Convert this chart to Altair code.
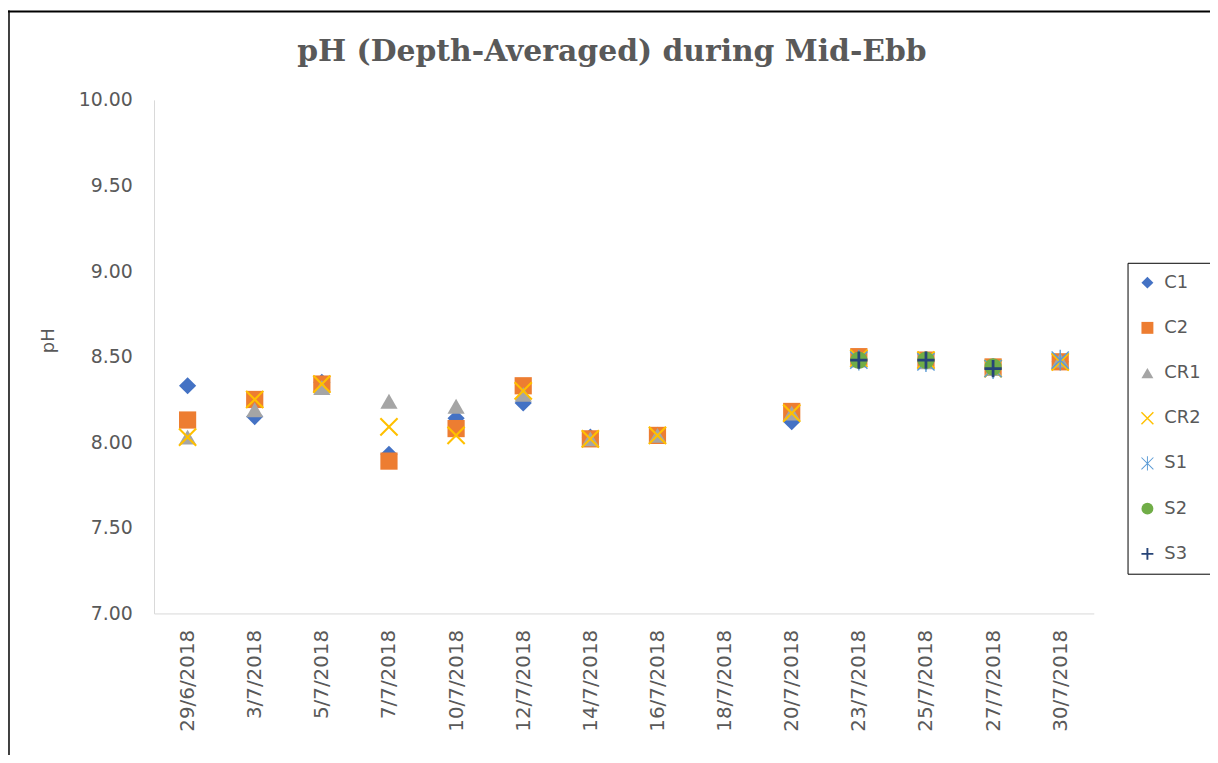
import altair as alt
import pandas as pd

dates = ["29/6/2018", "3/7/2018", "5/7/2018", "7/7/2018", "10/7/2018", "12/7/2018",
         "14/7/2018", "16/7/2018", "18/7/2018", "20/7/2018", "23/7/2018", "25/7/2018",
         "27/7/2018", "30/7/2018"]
series = ["C1", "C2", "CR1", "CR2", "S1", "S2", "S3"]

c1 = [8.33, 8.15, 8.35, 7.93, 8.14, 8.23, 8.03, 8.04, None, 8.12, 8.49, 8.47, 8.43, 8.47]
c2 = [8.13, 8.25, 8.34, 7.89, 8.08, 8.33, 8.02, 8.04, None, 8.18, 8.50, 8.48, 8.44, 8.47]
cr1 = [8.03, 8.19, 8.32, 8.24, 8.21, 8.28, 8.02, 8.04, None, 8.17, 8.48, 8.47, 8.43, 8.48]
cr2 = [8.03, 8.25, 8.34, 8.09, 8.04, 8.30, 8.02, 8.04, None, 8.17, 8.49, 8.48, 8.43, 8.47]
s1 = [None, None, None, None, None, None, None, None, None, None, 8.48, 8.47, 8.43, 8.48]
s2 = [None, None, None, None, None, None, None, None, None, None, 8.48, 8.48, 8.44, None]
s3 = [None, None, None, None, None, None, None, None, None, None, 8.48, 8.48, 8.43, None]

colors = ["#4472C4", "#ED7D31", "#A5A5A5", "#FFC000", "#5B9BD5", "#70AD47", "#264478"]

d = 0.085
x_path = (f"M{-1+d},{-1-d}L{1+d},{1-d}L{1-d},{1+d}L{-1-d},{-1+d}Z"
          f"M{-1-d},{1-d}L{1-d},{-1-d}L{1+d},{-1+d}L{-1+d},{1+d}Z")
e = 0.06
ast_path = (f"M{-1+e},{-1-e}L{1+e},{1-e}L{1-e},{1+e}L{-1-e},{-1+e}Z"
            f"M{-1-e},{1-e}L{1-e},{-1-e}L{1+e},{-1+e}L{-1+e},{1+e}Z"
            f"M{-0.08},-1.2L0.08,-1.2L0.08,1.2L-0.08,1.2Z")
plus_path = "M-1,-0.16L1,-0.16L1,0.16L-1,0.16Z M-0.16,-1L0.16,-1L0.16,1L-0.16,1Z"
shapes = ["diamond", "square", "triangle-up", x_path, ast_path, "circle", plus_path]

rows = []
for name, vals in zip(series, [c1, c2, cr1, cr2, s1, s2, s3]):
    for dt, v in zip(dates, vals):
        if v is not None:
            rows.append({"Date": dt, "Series": name, "pH": v})
df = pd.DataFrame(rows)

FONT = "DejaVu Sans"
GREY = "#595959"

legend = alt.Legend(
    title=None, orient="none", legendX=980, legendY=164,
    strokeColor="black", padding=11, rowPadding=27.5,
    labelFont=FONT, labelFontSize=18, labelColor=GREY, labelOffset=8,
    symbolSize=144, symbolStrokeWidth=0,
)

points = alt.Chart(df).mark_point(filled=True, opacity=1, size=300, strokeWidth=0).encode(
    x=alt.X("Date:N", scale=alt.Scale(domain=dates),
            axis=alt.Axis(title=None, labelAngle=-90, labelFont=FONT, labelFontSize=20,
                          labelColor=GREY, labelPadding=16, ticks=False,
                          domainColor="#D9D9D9", grid=False)),
    y=alt.Y("pH:Q", scale=alt.Scale(domain=[7, 10], nice=False, zero=False),
            axis=alt.Axis(title="pH", values=[7, 7.5, 8, 8.5, 9, 9.5, 10], format=".2f",
                          labelFont=FONT, labelFontSize=19, labelColor=GREY, labelPadding=22,
                          ticks=False, grid=False, domainColor="#D9D9D9",
                          titleFont=FONT, titleFontSize=18, titleFontWeight="normal",
                          titleColor=GREY, titleX=-97, titleY=242)),
    color=alt.Color("Series:N", scale=alt.Scale(domain=series, range=colors), legend=legend),
    shape=alt.Shape("Series:N", scale=alt.Scale(domain=series, range=shapes), legend=legend),
)

frame_data = alt.Data(values=[{"k": 0}])
top_line = alt.Chart(frame_data).mark_rule(color="black", strokeWidth=2).encode(
    x=alt.value(-147), x2=alt.value(1070), y=alt.value(-89))
left_line = alt.Chart(frame_data).mark_rule(color="black", strokeWidth=1.5).encode(
    x=alt.value(-146), y=alt.value(-90), y2=alt.value(660))

chart = alt.layer(points, top_line, left_line).properties(
    width=946, height=517,
    padding={"left": 147, "top": 90, "right": 117, "bottom": 140},
    autosize=alt.AutoSizeParams(type="none"),
    background="white",
    title=alt.Title("pH (Depth-Averaged) during Mid-Ebb", font="DejaVu Serif",
                    fontSize=30, fontWeight="bold", color=GREY, anchor="middle",
                    dx=-12, dy=84, offset=26),
).configure_view(strokeWidth=0)

chart.save("out.html", embed_options={"renderer": "svg", "actions": False})
